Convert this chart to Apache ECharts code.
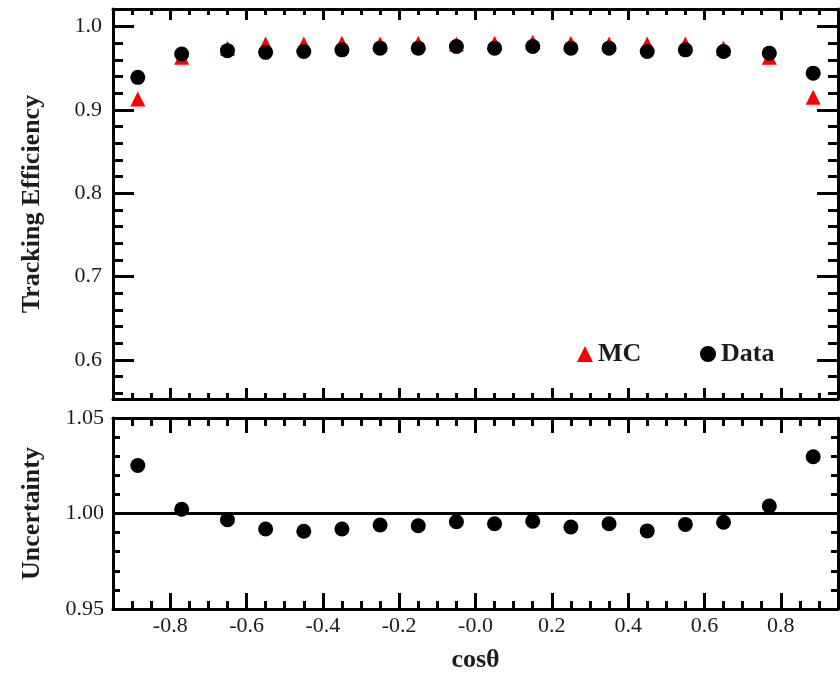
<!DOCTYPE html>
<html>
<head>
<meta charset="utf-8">
<title>Tracking Efficiency vs cosθ</title>
<script src="https://cdn.jsdelivr.net/npm/echarts@6/dist/echarts.min.js"></script>
<style>
  html, body { margin: 0; padding: 0; background: #fff; }
  #chart { width: 840px; height: 674px; }
</style>
</head>
<body>
<div id="chart"></div>
<script>
// Bin centres in cosθ
const cosTheta = [-0.885, -0.77, -0.65, -0.55, -0.45, -0.35, -0.25, -0.15, -0.05,
                  0.05, 0.15, 0.25, 0.35, 0.45, 0.55, 0.65, 0.77, 0.885];

// Tracking efficiency, data and simulation
const dataEff = [0.939, 0.967, 0.971, 0.969, 0.970, 0.972, 0.974, 0.974, 0.976,
                 0.974, 0.976, 0.974, 0.974, 0.970, 0.972, 0.970, 0.968, 0.944];
const mcEff   = [0.913, 0.963, 0.974, 0.979, 0.979, 0.980, 0.979, 0.980, 0.979,
                 0.980, 0.981, 0.980, 0.979, 0.979, 0.979, 0.974, 0.963, 0.915];

// Data / MC ratio shown in the lower panel
const ratio = [1.0251, 1.0022, 0.9967, 0.9919, 0.9907, 0.9919, 0.9940, 0.9936, 0.9957,
               0.9946, 0.9960, 0.9929, 0.9946, 0.9909, 0.9943, 0.9954, 1.0039, 1.0297];

// Tick labels
const xTickValues = [-0.8, -0.6, -0.4, -0.2, 0, 0.2, 0.4, 0.6, 0.8];
const xTickLabels = ['-0.8', '-0.6', '-0.4', '-0.2', '-0.0', '0.2', '0.4', '0.6', '0.8'];
const effTickValues = [0.6, 0.7, 0.8, 0.9, 1.0];
const effTickLabels = ['0.6', '0.7', '0.8', '0.9', '1.0'];
const ratioTickValues = [0.95, 1.00, 1.05];
const ratioTickLabels = ['0.95', '1.00', '1.05'];

const X_MIN = -0.95, X_MAX = 0.95;
const EFF_MIN = 0.553, EFF_MAX = 1.021;
const RATIO_MIN = 0.95, RATIO_MAX = 1.05;

const FONT = 'Liberation Serif';
const INK = '#1c1c1c';

function steps(from, to, step, skip) {
  const out = [];
  const n = Math.round((to - from) / step);
  for (let k = 0; k <= n; k++) {
    const v = Math.round((from + k * step) * 1000) / 1000;
    if (!skip.some(s => Math.abs(s - v) < 1e-6)) out.push(v);
  }
  return out;
}

const xMinor = steps(-0.9, 0.9, 0.05, xTickValues);
const effMinor = steps(0.56, 1.0, 0.02, effTickValues);
const ratioMinor = steps(0.96, 1.04, 0.01, ratioTickValues);

function labelFor(values, labels) {
  return v => {
    const i = values.findIndex(t => Math.abs(t - v) < 1e-6);
    return i >= 0 ? labels[i] : '';
  };
}

function axis(grid, pos, min, max, ticks, len, showLine, extra) {
  return Object.assign({
    type: 'value', gridIndex: grid, position: pos, min: min, max: max,
    axisLine: { show: showLine, onZero: false, lineStyle: { color: '#000', width: 3 } },
    axisTick: { show: true, inside: true, length: len, customValues: ticks,
                lineStyle: { color: '#000', width: 3 } },
    axisLabel: { show: false },
    splitLine: { show: false }
  }, extra || {});
}

const tickLabelStyle = { fontFamily: FONT, fontSize: 22, color: INK };
const titleStyle = { fontFamily: FONT, fontSize: 26, fontWeight: 'bold', color: INK };

const xAxes = [
  // upper panel
  axis(0, 'bottom', X_MIN, X_MAX, xTickValues, 11, true),
  axis(0, 'bottom', X_MIN, X_MAX, xMinor, 6, false),
  axis(0, 'top', X_MIN, X_MAX, xTickValues, 11, true),
  axis(0, 'top', X_MIN, X_MAX, xMinor, 6, false),
  // lower panel
  axis(1, 'bottom', X_MIN, X_MAX, xTickValues, 16, true, {
    axisLabel: Object.assign({ show: true, margin: 6, customValues: xTickValues,
      formatter: labelFor(xTickValues, xTickLabels) }, tickLabelStyle),
    name: 'cosθ', nameLocation: 'middle', nameGap: 38, nameTextStyle: titleStyle
  }),
  axis(1, 'bottom', X_MIN, X_MAX, xMinor, 8, false),
  axis(1, 'top', X_MIN, X_MAX, xTickValues, 15, true),
  axis(1, 'top', X_MIN, X_MAX, xMinor, 8, false)
];

const yAxes = [
  // upper panel
  axis(0, 'left', EFF_MIN, EFF_MAX, effTickValues, 21, true, {
    axisLabel: Object.assign({ show: true, margin: 11, customValues: effTickValues,
      formatter: labelFor(effTickValues, effTickLabels) }, tickLabelStyle),
    name: 'Tracking Efficiency', nameLocation: 'middle', nameGap: 68, nameTextStyle: titleStyle
  }),
  axis(0, 'left', EFF_MIN, EFF_MAX, effMinor, 10, false),
  axis(0, 'right', EFF_MIN, EFF_MAX, effTickValues, 21, true),
  axis(0, 'right', EFF_MIN, EFF_MAX, effMinor, 10, false),
  // lower panel
  axis(1, 'left', RATIO_MIN, RATIO_MAX, ratioTickValues, 14, true, {
    axisLabel: Object.assign({ show: true, margin: 9, customValues: ratioTickValues,
      formatter: labelFor(ratioTickValues, ratioTickLabels) }, tickLabelStyle),
    name: 'Uncertainty', nameLocation: 'middle', nameGap: 68, nameTextStyle: titleStyle
  }),
  axis(1, 'left', RATIO_MIN, RATIO_MAX, ratioMinor, 7, false),
  axis(1, 'right', RATIO_MIN, RATIO_MAX, ratioTickValues, 14, true),
  axis(1, 'right', RATIO_MIN, RATIO_MAX, ratioMinor, 7, false)
];

const pairs = (xs, ys) => xs.map((x, i) => [x, ys[i]]);

const legendBase = {
  orient: 'horizontal', padding: 0, itemGap: 0, itemWidth: 16, itemHeight: 16,
  textStyle: { fontFamily: FONT, fontSize: 26, fontWeight: 'bold', color: INK },
  selectedMode: false
};

const option = {
  animation: false,
  backgroundColor: '#fff',
  grid: [
    { left: 113, top: 9, width: 725, height: 390 },
    { left: 113, top: 418, width: 725, height: 194 }
  ],
  xAxis: xAxes,
  yAxis: yAxes,
  legend: [
    Object.assign({ data: ['MC'], left: 577, top: 341 }, legendBase),
    Object.assign({ data: ['Data'], left: 700, top: 341 }, legendBase)
  ],
  series: [
    {
      name: 'MC', type: 'scatter', xAxisIndex: 0, yAxisIndex: 0,
      symbol: 'triangle', symbolSize: 15, z: 2,
      itemStyle: { color: '#ff0000', opacity: 1 },
      data: pairs(cosTheta, mcEff)
    },
    {
      name: 'Data', type: 'scatter', xAxisIndex: 0, yAxisIndex: 0,
      symbol: 'circle', symbolSize: 15, z: 3,
      itemStyle: { color: '#000', opacity: 1 },
      data: pairs(cosTheta, dataEff)
    },
    {
      name: 'Ratio', type: 'scatter', xAxisIndex: 4, yAxisIndex: 4,
      symbol: 'circle', symbolSize: 15, z: 3,
      itemStyle: { color: '#000', opacity: 1 },
      data: pairs(cosTheta, ratio),
      markLine: {
        silent: true, symbol: 'none', label: { show: false },
        lineStyle: { color: '#000', width: 3, type: 'solid' },
        data: [{ yAxis: 1.0 }]
      }
    }
  ]
};

const chart = echarts.init(document.getElementById('chart'), null, { renderer: 'canvas' });
chart.setOption(option);
</script>
</body>
</html>
